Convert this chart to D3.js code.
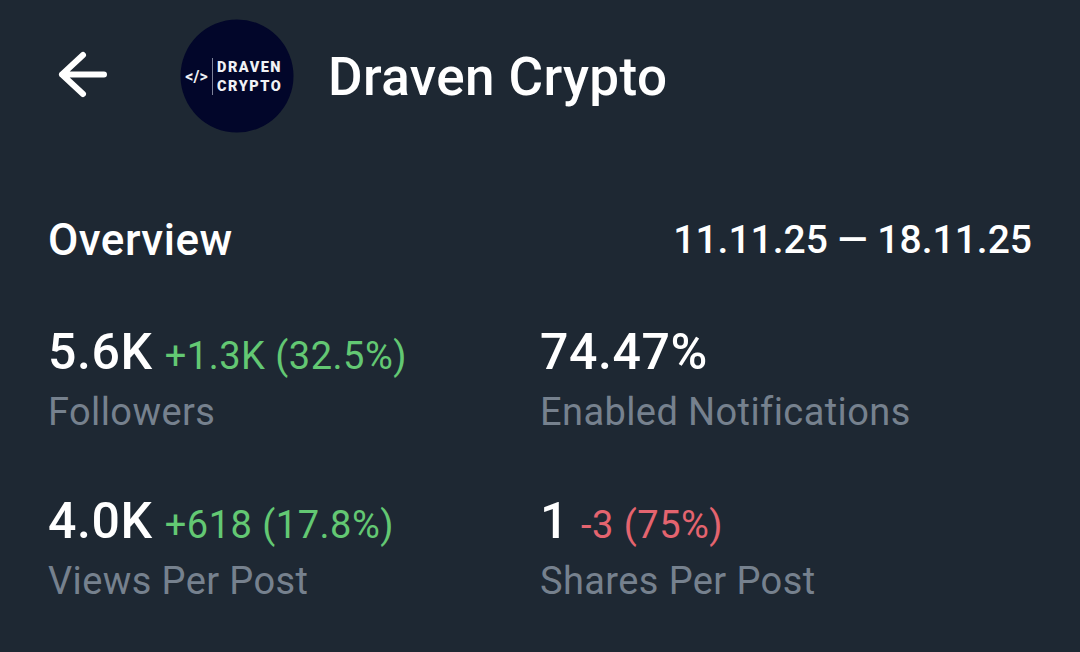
<!DOCTYPE html>
<html><head><meta charset="utf-8">
<script src="https://cdn.jsdelivr.net/npm/d3@7"></script>
<style>html,body{margin:0;padding:0;background:#1e2833}svg{display:block}text{font-family:Roboto,sans-serif}</style>
</head><body><svg id="c" width="1080" height="652"></svg>
<script>
const title = "Draven Crypto";
const overviewLabel = "Overview";
const dateRange = "11.11.25 — 18.11.25";
const metricNames = ["Followers","Enabled Notifications","Views Per Post","Shares Per Post"];
const metricValues = ["5.6K","74.47%","4.0K","1"];
const metricDeltas = ["+1.3K (32.5%)","","+618 (17.8%)","-3 (75%)"];
const metricDirections = ["up","","up","down"];
const logoLines = ["DRAVEN","CRYPTO"];
const colors = {up:"#63c873",down:"#e4646f",name:"#76818e",white:"#ffffff"};

const svg = d3.select("#c");
svg.append("rect").attr("width",1080).attr("height",652).attr("fill","#1e2833");
// back arrow
svg.append("path").attr("d","M104 74.5H62M83 55L62 74.5L83 94").attr("fill","none").attr("stroke","#fff").attr("stroke-width",6).attr("stroke-linecap","round").attr("stroke-linejoin","round");
// logo
svg.append("circle").attr("cx",237).attr("cy",76).attr("r",56.5).attr("fill","#02062a");
svg.append("text").attr("x",196.5).attr("y",82).attr("text-anchor","middle").attr("fill","#eef0f5").attr("font-size",16).attr("font-weight",700).text("</>");
svg.append("line").attr("x1",212.5).attr("x2",212.5).attr("y1",58).attr("y2",95).attr("stroke","#7d8299").attr("stroke-width",1);
svg.selectAll(".logo").data(logoLines).join("text").attr("x",217).attr("y",(d,i)=>72+i*19).attr("fill","#f0f1f5").attr("font-size",14.5).attr("font-weight",900).attr("letter-spacing",1.5).text(d=>d);
svg.append("text").attr("x",328).attr("y",95).attr("fill","#fff").attr("font-size",53).attr("font-weight",500).attr("letter-spacing",0.4).text(title);
svg.append("text").attr("x",48).attr("y",255).attr("fill","#fff").attr("font-size",44).attr("font-weight",500).attr("letter-spacing",0.5).text(overviewLabel);
svg.append("text").attr("x",1032).attr("y",253).attr("text-anchor","end").attr("fill","#fff").attr("font-size",39).attr("font-weight",500).text(dateRange);
// metrics grid
const col = d3.scaleOrdinal().domain([0,1]).range([48,540]);
const row = d3.scaleOrdinal().domain([0,1]).range([369,538]);
metricNames.forEach((n,i)=>{
  const x=col(i%2), y=row(Math.floor(i/2));
  const v=svg.append("text").attr("x",x).attr("y",y).attr("fill","#fff").attr("font-size",50).attr("font-weight",500).attr("letter-spacing",0.6).text(metricValues[i]);
  if(metricDeltas[i]){
    const w=v.node().getComputedTextLength();
    svg.append("text").attr("x",x+w+12).attr("y",y).attr("fill",colors[metricDirections[i]]).attr("font-size",38).attr("letter-spacing",0.5).text(metricDeltas[i]);
  }
  svg.append("text").attr("x",x).attr("y",y+56).attr("fill",colors.name).attr("font-size",38).attr("letter-spacing",0.4).text(n);
});
</script></body></html>
